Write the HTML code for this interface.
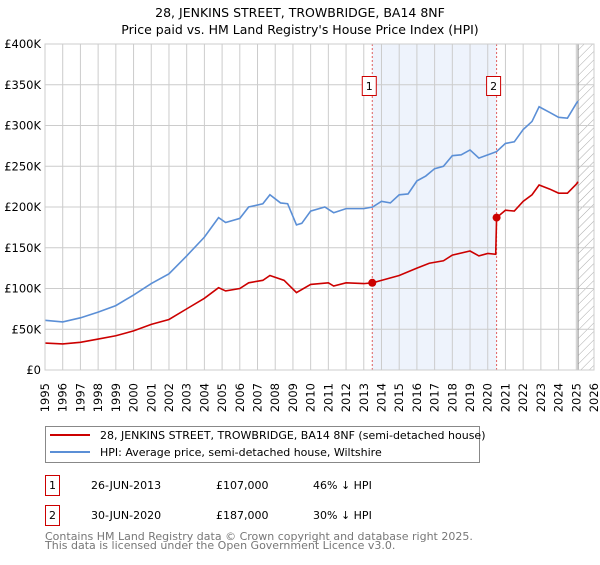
<!DOCTYPE html>
<html><head><meta charset="utf-8"><style>
body{margin:0;background:#fff;font-family:"Liberation Sans","DejaVu Sans",sans-serif;}
svg text{font-family:"DejaVu Sans","Liberation Sans",sans-serif;}
</style></head><body>
<svg width="600" height="560" xmlns="http://www.w3.org/2000/svg">
<defs><pattern id="hatch" width="6" height="6" patternUnits="userSpaceOnUse" patternTransform="rotate(45)"><line x1="0" y1="0" x2="0" y2="6" stroke="#aaa" stroke-width="1"/></pattern></defs>
<text x="300" y="17" text-anchor="middle" font-size="12.5">28, JENKINS STREET, TROWBRIDGE, BA14 8NF</text>
<text x="300" y="34" text-anchor="middle" font-size="12.5">Price paid vs. HM Land Registry's House Price Index (HPI)</text>
<g id="plot"></g>
<g>
<rect x="45.5" y="426.5" width="434" height="36" fill="#fff" stroke="#888"/>
<line x1="50" y1="435" x2="90" y2="435" stroke="#cc0000" stroke-width="2"/>
<text x="100" y="439" font-size="11">28, JENKINS STREET, TROWBRIDGE, BA14 8NF (semi-detached house)</text>
<line x1="50" y1="452" x2="90" y2="452" stroke="#5b8fd6" stroke-width="2"/>
<text x="100" y="456" font-size="11">HPI: Average price, semi-detached house, Wiltshire</text>
</g>
<g font-size="11">
<rect x="45.5" y="475.5" width="14" height="20" fill="#fff" stroke="#cc0000"/><text x="52.5" y="489" text-anchor="middle">1</text>
<text x="91" y="489">26-JUN-2013</text><text x="216" y="489">£107,000</text><text x="313" y="489">46% ↓ HPI</text>
<rect x="45.5" y="505.5" width="14" height="20" fill="#fff" stroke="#cc0000"/><text x="52.5" y="519" text-anchor="middle">2</text>
<text x="91" y="519">30-JUN-2020</text><text x="216" y="519">£187,000</text><text x="313" y="519">30% ↓ HPI</text>
</g>
<text x="45" y="540" font-size="11" fill="#777">Contains HM Land Registry data © Crown copyright and database right 2025.</text>
<text x="45" y="549" font-size="11" fill="#777">This data is licensed under the Open Government Licence v3.0.</text>
</svg>
<script>
const yTicks=[0,50000,100000,150000,200000,250000,300000,350000,400000];
const yTickLabels=["£0","£50K","£100K","£150K","£200K","£250K","£300K","£350K","£400K"];
const xYears=[1995,1996,1997,1998,1999,2000,2001,2002,2003,2004,2005,2006,2007,2008,2009,2010,2011,2012,2013,2014,2015,2016,2017,2018,2019,2020,2021,2022,2023,2024,2025,2026];
const hpiT=[1995,1996,1997,1998,1999,2000,2001,2002,2003,2004,2004.8,2005.2,2006,2006.5,2007.3,2007.7,2008.3,2008.7,2009.2,2009.5,2010,2010.8,2011.3,2012,2013,2013.5,2014,2014.5,2015,2015.5,2016,2016.5,2017,2017.5,2018,2018.5,2019,2019.5,2020,2020.5,2021,2021.5,2022,2022.5,2022.9,2023.5,2024,2024.5,2025,2025.1];
const hpiV=[61,59,64,71,79,92,106,118,140,163,187,181,186,200,204,215,205,204,178,180,195,200,193,198,198,200,207,205,215,216,232,238,247,250,263,264,270,260,264,268,278,280,295,305,323,316,310,309,327,330];
const ppT=[1995,1996,1997,1998,1999,2000,2001,2002,2003,2004,2004.8,2005.2,2006,2006.5,2007.3,2007.7,2008.5,2009.2,2010,2011,2011.3,2012,2013,2013.5,2014,2015,2016,2016.7,2017.5,2018,2019,2019.5,2020,2020.45,2020.5,2021,2021.5,2022,2022.5,2022.9,2023.5,2024,2024.5,2025,2025.1];
const ppV=[33,32,34,38,42,48,56,62,75,88,101,97,100,107,110,116,110,95,105,107,103,107,106,107,110,116,125,131,134,141,146,140,143,142,187,196,195,207,215,227,222,217,217,228,231];
const saleT=[2013.48,2020.5];
const saleV=[107,187];
const saleLabels=["1","2"];
const x0=45,x1=594,yb=370,yt=44;
const X=t=>x0+(t-1995)/(2026-1995)*(x1-x0);
const Y=v=>yb-v/400000*(yb-yt);
const NS="http://www.w3.org/2000/svg";
const g=document.getElementById('plot');
function el(tag,attrs,parent){const e=document.createElementNS(NS,tag);for(const k in attrs)e.setAttribute(k,attrs[k]);(parent||g).appendChild(e);return e;}
const band=el('rect',{x:X(saleT[0]),y:yt,width:X(saleT[1])-X(saleT[0]),height:yb-yt,fill:'#eef3fc'});


const hatch=el('rect',{x:X(2025.1),y:yt,width:x1-X(2025.1),height:yb-yt,fill:'url(#hatch)'});


yTicks.forEach((v,i)=>{
 const l=el('line',{x1:x0,x2:x1,y1:Y(v),y2:Y(v),stroke:'#ccc'});
 
 
 const t=el('text',{x:x0-4,y:Y(v)+4,'text-anchor':'end','font-size':'11.5'});
 t.textContent=yTickLabels[i];
 
 
});
xYears.forEach(yr=>{
 const l=el('line',{x1:X(yr),x2:X(yr),y1:yt,y2:yb,stroke:'#ccc'});
 
 
 const tx=X(yr)+4, ty=yb+13;
 const t=el('text',{x:tx,y:ty,'text-anchor':'end','font-size':'11.5',transform:'rotate(-90 '+tx+' '+ty+')'});
 t.textContent=yr;
 
 
});
const edge=el('line',{x1:X(2025.1),x2:X(2025.1),y1:yt,y2:yb,stroke:'#888'});


saleT.forEach((t,i)=>{
 const l=el('line',{x1:X(t),x2:X(t),y1:yt,y2:yb,stroke:'#e06060','stroke-dasharray':'2,2'});
 
 
});
const hp=el('polyline',{points:hpiT.map((t,i)=>X(t)+','+Y(hpiV[i]*1000)).join(' '),fill:'none',stroke:'#5b8fd6','stroke-width':1.6});


const pp=el('polyline',{points:ppT.map((t,i)=>X(t)+','+Y(ppV[i]*1000)).join(' '),fill:'none',stroke:'#cc0000','stroke-width':1.6});


saleT.forEach((t,i)=>{
 const c=el('circle',{cx:X(t),cy:Y(saleV[i]*1000),r:4,fill:'#cc0000'});
 
 
 const bx=X(t)-10;
 const r=el('rect',{x:bx,y:76.5,width:14,height:19,fill:'#fff',stroke:'#cc0000'});
 
 
 const tx=el('text',{x:bx+7,y:90,'text-anchor':'middle','font-size':'11'});
 tx.textContent=saleLabels[i];
 
 
});
const frame=el('rect',{x:x0,y:yt,width:x1-x0,height:yb-yt,fill:'none',stroke:'#ccc'});


</script>
</body></html>
